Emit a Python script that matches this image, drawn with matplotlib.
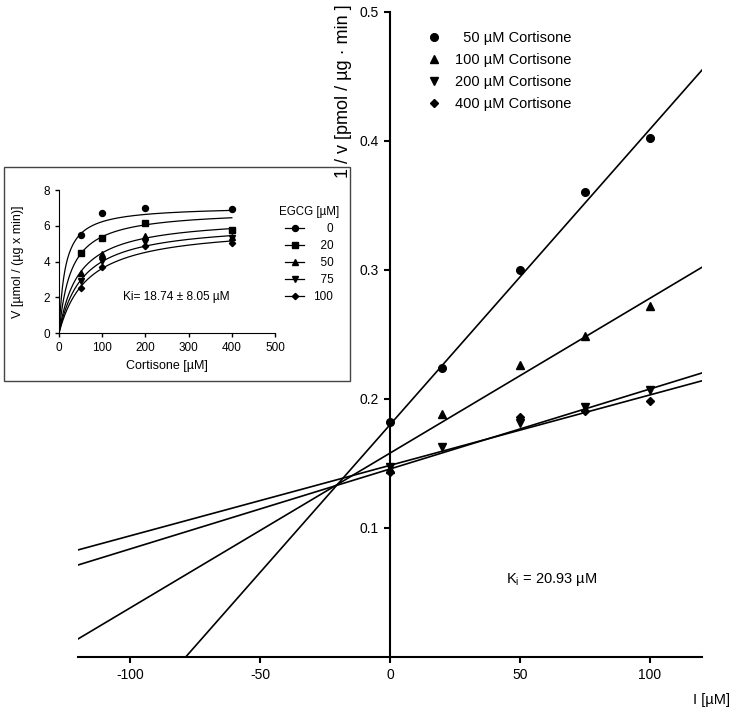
import numpy as np
import matplotlib
matplotlib.use('Agg')
import matplotlib.pyplot as plt
from matplotlib.patches import Rectangle

plt.rcParams['font.family'] = ['Liberation Sans', 'DejaVu Sans']
plt.rcParams['font.size'] = 10
plt.rcParams['axes.unicode_minus'] = False

# Dixon plot: 1/v against inhibitor concentration
inhibitor = [0, 20, 50, 75, 100]
inv_v_50 = [0.182, 0.224, 0.300, 0.360, 0.402]
inv_v_100 = [0.146, 0.188, 0.226, 0.249, 0.272]
inv_v_200 = [0.147, 0.163, 0.181, 0.194, 0.207]
inhibitor_400 = [0, 50, 75, 100]
inv_v_400 = [0.143, 0.186, 0.191, 0.198]

# fitted lines (slope, intercept)
fit_slopes = [0.00229, 0.00120, 0.00062, 0.000546]
fit_intercepts = [0.180, 0.158, 0.1457, 0.1485]

dixon_labels = ['  50 µM Cortisone', '100 µM Cortisone',
                '200 µM Cortisone', '400 µM Cortisone']
dixon_markers = ['o', '^', 'v', 'D']

# inset: Michaelis-Menten curves
cortisone = [50, 100, 200, 400]
v_0 = [5.5, 6.7, 7.0, 6.95]
v_20 = [4.5, 5.33, 6.17, 5.77]
v_50 = [3.35, 4.4, 5.4, 5.35]
v_75 = [2.9, 4.05, 5.1, 5.3]
v_100 = [2.5, 3.7, 4.85, 5.05]
egcg_labels = ['\u2007\u20070', '\u200720', '\u200750', '\u200775', '100']
inset_markers = ['o', 's', '^', 'v', 'D']
vmax = [7.1, 6.9, 6.5, 6.2, 6.0]
km = [14, 28, 45, 55, 66]

fig = plt.figure(figsize=(7.34, 7.09), dpi=100)

ax = fig.add_axes([0.1063, 0.0733, 0.8501, 0.9102])
xs = np.linspace(-120, 120, 200)
for s, b in zip(fit_slopes, fit_intercepts):
    ax.plot(xs, s * xs + b, color='black', lw=1.2)

series = [(inhibitor, inv_v_50), (inhibitor, inv_v_100),
          (inhibitor, inv_v_200), (inhibitor_400, inv_v_400)]
for (xv, yv), m, lab in zip(series, dixon_markers, dixon_labels):
    ms = 4.2 if m == 'D' else 5.5
    ax.plot(xv, yv, linestyle='none', marker=m, color='black', ms=ms,
            label=lab, clip_on=False)

ax.set_xlim(-120, 120)
ax.set_ylim(0, 0.5)
ax.spines['top'].set_visible(False)
ax.spines['right'].set_visible(False)
ax.spines['left'].set_position(('data', 0))
ax.spines['left'].set_linewidth(1.5)
ax.spines['bottom'].set_linewidth(1.5)
ax.set_xticks([-100, -50, 0, 50, 100])
ax.set_yticks([0.1, 0.2, 0.3, 0.4, 0.5])
ax.set_yticklabels(['0.1', '0.2', '0.3', '0.4', '0.5'])
ax.tick_params(direction='out', length=4.5, width=1.5, labelsize=10)
ax.text(62, 0.06, r'K$_\mathregular{i}$ = 20.93 µM', fontsize=10.5,
        ha='center', va='center')

leg = ax.legend(loc='upper left', bbox_to_anchor=(0.564, 0.975),
                bbox_transform=fig.transFigure, frameon=False,
                fontsize=10.5, handlelength=1.0, handletextpad=0.9,
                labelspacing=0.55)

fig.text(343 / 734, 1 - 4 / 709, '1 / v [pmol / µg · min ]', rotation=90,
         ha='center', va='top', fontsize=13)
fig.text(0.995, 1 - 700 / 709, 'I [µM]', ha='right', va='center',
         fontsize=10.5)

# box around the inset
box = Rectangle((0.00545, 0.4626), 0.4714, 0.3018, transform=fig.transFigure,
                facecolor='white', edgecolor='#444444', lw=1.0, zorder=1)
fig.patches.append(box)

ins = fig.add_axes([0.0804, 0.5303, 0.2943, 0.2017], zorder=2)
ins.patch.set_alpha(0)
cs = np.linspace(0, 400, 300)
for vals, m, lab, vm, k in zip([v_0, v_20, v_50, v_75, v_100], inset_markers,
                               egcg_labels, vmax, km):
    ins.plot(cs, vm * cs / (k + cs), color='black', lw=0.9)
    ms = 3.2 if m == 'D' else 4.3
    ins.plot(cortisone, vals, linestyle='none', marker=m, color='black', ms=ms)
    ins.plot([], [], color='black', lw=0.9, marker=m, ms=ms, label=lab)

ins.set_xlim(0, 500)
ins.set_ylim(0, 8)
ins.set_xticks([0, 100, 200, 300, 400, 500])
ins.set_yticks([0, 2, 4, 6, 8])
ins.spines['top'].set_visible(False)
ins.spines['right'].set_visible(False)
ins.tick_params(direction='out', length=3, width=1, labelsize=8.5)
ins.set_xlabel('Cortisone [µM]', fontsize=9, labelpad=4)
ins.set_ylabel('V [µmol / (µg x min)]', fontsize=9, labelpad=14)
ins.text(271, 2.0, 'Ki= 18.74 ± 8.05 µM', fontsize=8.6, ha='center',
         va='center')
ins.legend(title='EGCG [µM]', loc='upper left', bbox_to_anchor=(0.97, 0.96),
           frameon=False, fontsize=8.5, title_fontsize=8.3, handlelength=1.6,
           handletextpad=0.8, labelspacing=0.42)

fig.savefig('out.png', dpi=100)
